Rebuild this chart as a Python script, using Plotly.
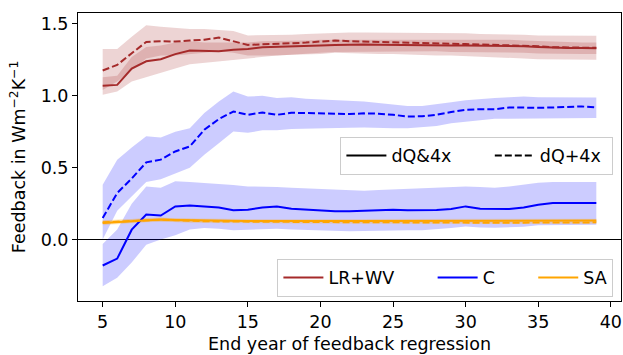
import plotly.graph_objects as go

# ---------------- data ----------------
years = list(range(5, 40))

# LR+WV, dQ&4x (solid) and dQ+4x (dashed)
lrwv_solid = [1.07, 1.076, 1.19, 1.24, 1.255, 1.29, 1.315, 1.31, 1.31, 1.32,
              1.326, 1.338, 1.34, 1.343, 1.347, 1.35, 1.354, 1.358, 1.357, 1.355,
              1.353, 1.352, 1.351, 1.35, 1.35, 1.35, 1.35, 1.35, 1.35, 1.345,
              1.34, 1.335, 1.332, 1.332, 1.33]
lrwv_solid_lo = [1.007, 1.03, 1.10, 1.134, 1.16, 1.19, 1.22, 1.23, 1.24, 1.25,
                 1.26, 1.27, 1.28, 1.285, 1.29, 1.30, 1.305, 1.31, 1.31, 1.31,
                 1.31, 1.31, 1.31, 1.31, 1.305, 1.305, 1.305, 1.305, 1.30, 1.30,
                 1.295, 1.29, 1.29, 1.29, 1.29]
lrwv_solid_hi = [1.13, 1.14, 1.27, 1.34, 1.35, 1.37, 1.38, 1.37, 1.37, 1.37,
                 1.37, 1.38, 1.38, 1.385, 1.385, 1.39, 1.39, 1.395, 1.395, 1.395,
                 1.395, 1.395, 1.39, 1.39, 1.39, 1.39, 1.39, 1.39, 1.39, 1.385,
                 1.38, 1.375, 1.372, 1.37, 1.37]
lrwv_dashed = [1.176, 1.215, 1.296, 1.375, 1.38, 1.377, 1.385, 1.39, 1.405, 1.38,
               1.354, 1.358, 1.36, 1.366, 1.37, 1.377, 1.385, 1.38, 1.378, 1.377,
               1.375, 1.373, 1.37, 1.365, 1.362, 1.36, 1.357, 1.355, 1.353, 1.35,
               1.345, 1.338, 1.335, 1.335, 1.335]
lrwv_dashed_lo = [1.04, 1.10, 1.18, 1.26, 1.28, 1.28, 1.29, 1.30, 1.31, 1.30,
                  1.28, 1.28, 1.28, 1.285, 1.29, 1.29, 1.30, 1.30, 1.295, 1.29,
                  1.29, 1.285, 1.285, 1.28, 1.28, 1.28, 1.275, 1.27, 1.265, 1.26,
                  1.255, 1.25, 1.25, 1.25, 1.25]
lrwv_dashed_hi = [1.326, 1.326, 1.41, 1.49, 1.48, 1.47, 1.465, 1.465, 1.46, 1.45,
                  1.42, 1.42, 1.42, 1.425, 1.43, 1.435, 1.44, 1.44, 1.44, 1.44,
                  1.44, 1.44, 1.435, 1.435, 1.435, 1.435, 1.43, 1.43, 1.43, 1.425,
                  1.42, 1.42, 1.42, 1.418, 1.418]

# C
c_solid = [-0.18, -0.132, 0.069, 0.174, 0.167, 0.231, 0.238, 0.231, 0.224, 0.204,
           0.208, 0.224, 0.231, 0.215, 0.208, 0.206, 0.197, 0.197, 0.2, 0.2,
           0.208, 0.205, 0.205, 0.206, 0.213, 0.231, 0.215, 0.213, 0.213, 0.224,
           0.243, 0.255, 0.255, 0.255, 0.255]
c_solid_lo = [-0.324, -0.265, -0.16, -0.035, 0.0, 0.03, 0.07, 0.08, 0.075, 0.065,
              0.07, 0.07, 0.075, 0.07, 0.065, 0.062, 0.06, 0.058, 0.06, 0.062,
              0.065, 0.065, 0.065, 0.07, 0.08, 0.092, 0.085, 0.082, 0.085, 0.09,
              0.1, 0.105, 0.105, 0.104, 0.104]
c_solid_hi = [-0.03, 0.07, 0.25, 0.37, 0.36, 0.405, 0.40, 0.394, 0.39, 0.38,
              0.37, 0.37, 0.365, 0.36, 0.355, 0.35, 0.345, 0.34, 0.34, 0.345,
              0.35, 0.355, 0.36, 0.36, 0.365, 0.37, 0.365, 0.36, 0.37, 0.385,
              0.395, 0.40, 0.40, 0.40, 0.40]
c_dashed = [0.15, 0.324, 0.425, 0.537, 0.556, 0.613, 0.648, 0.764, 0.838, 0.891,
            0.868, 0.884, 0.868, 0.882, 0.88, 0.878, 0.875, 0.873, 0.878, 0.876,
            0.868, 0.856, 0.858, 0.868, 0.887, 0.903, 0.907, 0.907, 0.919, 0.917,
            0.917, 0.919, 0.921, 0.926, 0.919]
c_dashed_lo = [0.0, 0.2, 0.3, 0.4, 0.42, 0.46, 0.5, 0.59, 0.67, 0.752,
               0.743, 0.76, 0.76, 0.77, 0.775, 0.775, 0.776, 0.778, 0.78, 0.78,
               0.775, 0.775, 0.78, 0.79, 0.81, 0.82, 0.83, 0.84, 0.845, 0.845,
               0.845, 0.845, 0.845, 0.845, 0.845]
c_dashed_hi = [0.382, 0.556, 0.64, 0.718, 0.71, 0.75, 0.775, 0.88, 0.96, 1.03,
               0.995, 1.0, 0.985, 0.99, 0.98, 0.975, 0.972, 0.97, 0.96, 0.95,
               0.94, 0.93, 0.93, 0.94, 0.955, 0.97, 0.98, 0.985, 0.99, 0.995,
               0.99, 0.99, 0.99, 0.99, 0.988]

# SA
sa_solid = [0.116, 0.122, 0.128, 0.134, 0.139, 0.136, 0.134, 0.133, 0.132, 0.131,
            0.13, 0.13, 0.131, 0.13, 0.13, 0.13, 0.13, 0.13, 0.13, 0.13,
            0.13, 0.13, 0.13, 0.13, 0.131, 0.131, 0.131, 0.131, 0.131, 0.132,
            0.132, 0.132, 0.132, 0.132, 0.132]
sa_solid_lo = [0.10, 0.108, 0.115, 0.12, 0.125, 0.123, 0.121, 0.12, 0.119, 0.118,
               0.117, 0.117, 0.118, 0.117, 0.117, 0.117, 0.117, 0.117, 0.117, 0.117,
               0.117, 0.117, 0.117, 0.117, 0.118, 0.118, 0.118, 0.118, 0.118, 0.119,
               0.119, 0.119, 0.119, 0.119, 0.119]
sa_solid_hi = [0.132, 0.136, 0.141, 0.148, 0.153, 0.149, 0.147, 0.146, 0.145, 0.144,
               0.143, 0.143, 0.144, 0.143, 0.143, 0.143, 0.143, 0.143, 0.143, 0.143,
               0.143, 0.143, 0.143, 0.143, 0.144, 0.144, 0.144, 0.144, 0.144, 0.145,
               0.145, 0.145, 0.145, 0.145, 0.145]
sa_dashed = [0.12, 0.125, 0.13, 0.135, 0.139, 0.135, 0.13, 0.128, 0.126, 0.125,
             0.125, 0.124, 0.124, 0.123, 0.123, 0.122, 0.121, 0.12, 0.12, 0.12,
             0.12, 0.119, 0.118, 0.118, 0.117, 0.117, 0.117, 0.117, 0.117, 0.118,
             0.118, 0.119, 0.12, 0.12, 0.12]
sa_dashed_lo = [0.106, 0.111, 0.117, 0.122, 0.126, 0.122, 0.117, 0.115, 0.114, 0.113,
                0.113, 0.112, 0.112, 0.111, 0.111, 0.110, 0.109, 0.108, 0.108, 0.108,
                0.108, 0.107, 0.106, 0.106, 0.105, 0.105, 0.105, 0.105, 0.105, 0.106,
                0.106, 0.107, 0.108, 0.108, 0.108]
sa_dashed_hi = [0.134, 0.139, 0.143, 0.148, 0.152, 0.148, 0.143, 0.141, 0.138, 0.137,
                0.137, 0.136, 0.136, 0.135, 0.135, 0.134, 0.133, 0.132, 0.132, 0.132,
                0.132, 0.131, 0.130, 0.130, 0.129, 0.129, 0.129, 0.129, 0.129, 0.130,
                0.130, 0.131, 0.132, 0.132, 0.132]

y_ticks = [0.0, 0.5, 1.0, 1.5]
x_ticks = [5, 10, 15, 20, 25, 30, 35, 40]

style_names = ["dQ&4x", "dQ+4x"]
variable_names = ["LR+WV", "C", "SA"]

# ---------------- styling ----------------
FONT = "DejaVu Sans"
FS = 17.5
BROWN = "#a52a2a"
BLUE = "#0000ff"
ORANGE = "#ffa500"
BANDS = {BROWN: "rgba(165,42,42,0.2)", BLUE: "rgba(0,0,255,0.2)", ORANGE: "rgba(255,165,0,0.2)"}
DASH = "7px,3px"
NB = "\u00a0"

fig = go.Figure()

series = [
    (lrwv_solid, lrwv_solid_lo, lrwv_solid_hi, BROWN, "solid"),
    (lrwv_dashed, lrwv_dashed_lo, lrwv_dashed_hi, BROWN, DASH),
    (c_solid, c_solid_lo, c_solid_hi, BLUE, "solid"),
    (c_dashed, c_dashed_lo, c_dashed_hi, BLUE, DASH),
    (sa_solid, sa_solid_lo, sa_solid_hi, ORANGE, "solid"),
    (sa_dashed, sa_dashed_lo, sa_dashed_hi, ORANGE, DASH),
]

for mean, lo, hi, col, dash in series:
    fig.add_trace(go.Scatter(
        x=years + years[::-1], y=hi + lo[::-1], mode="lines", fill="toself",
        fillcolor=BANDS[col], line=dict(width=0), hoverinfo="skip", showlegend=False))

for mean, lo, hi, col, dash in series:
    fig.add_trace(go.Scatter(
        x=years, y=mean, mode="lines", line=dict(color=col, width=2, dash=dash),
        showlegend=False))

# legend 1 (line styles)
for i, (name, dash) in enumerate(zip(style_names, ["solid", DASH])):
    label = name + (NB * 6 if i < len(style_names) - 1 else NB)
    fig.add_trace(go.Scatter(x=[None], y=[None], mode="lines", name=label,
                             line=dict(color="black", width=2, dash=dash), legend="legend"))
# legend 2 (variables)
for i, (name, col) in enumerate(zip(variable_names, [BROWN, BLUE, ORANGE])):
    label = name + (NB * 6 if i < len(variable_names) - 1 else "")
    fig.add_trace(go.Scatter(x=[None], y=[None], mode="lines", name=label,
                             line=dict(color=col, width=2), legend="legend2"))

L, R, T, B = 77.5, 2.4, 12.5, 53.5
ph = 355 - T - B
fig.update_layout(
    width=623, height=355,
    margin=dict(l=L, r=R, t=T, b=B, pad=0),
    paper_bgcolor="white", plot_bgcolor="white",
    font=dict(family=FONT, size=FS, color="black"),
    legend=dict(orientation="h", x=0.986, xanchor="right", y=(301.5 - 136.5) / ph, yanchor="top",
                bgcolor="rgba(255,255,255,0.8)", bordercolor="#cccccc", borderwidth=1,
                itemwidth=40, font=dict(family=FONT, size=FS)),
    legend2=dict(orientation="h", x=0.986, xanchor="right", y=(301.5 - 259) / ph, yanchor="top",
                 bgcolor="rgba(255,255,255,0.8)", bordercolor="#cccccc", borderwidth=1,
                 itemwidth=40, font=dict(family=FONT, size=FS)),
    xaxis=dict(range=[3.3, 40.7], tickvals=x_ticks, showgrid=False, zeroline=False,
               showline=True, linecolor="black", linewidth=1, mirror=True,
               ticks="outside", ticklen=5, tickcolor="black",
               title=dict(text="End year of feedback regression", standoff=6,
                          font=dict(family=FONT, size=FS))),
    yaxis=dict(range=[-0.427, 1.576], tickvals=y_ticks, tickformat=".1f", showgrid=False,
               zeroline=True, zerolinecolor="black", zerolinewidth=1,
               showline=True, linecolor="black", linewidth=1, mirror=True,
               ticks="outside", ticklen=5, tickcolor="black",
               title=dict(text="Feedback in Wm<sup>\u22122</sup>K<sup>\u22121</sup>", standoff=10,
                          font=dict(family=FONT, size=FS))),
)

fig.write_html("out.html")
